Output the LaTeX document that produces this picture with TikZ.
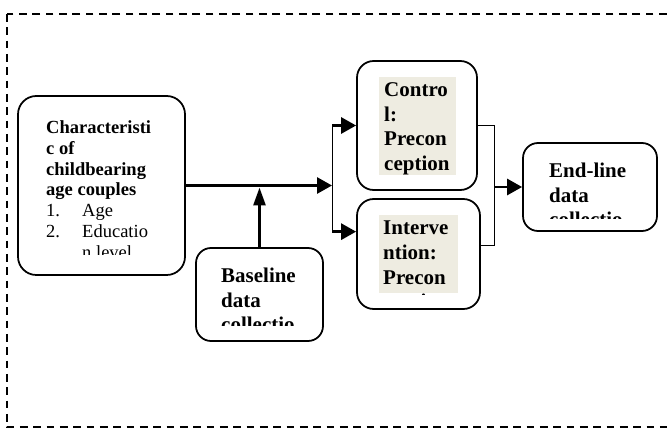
\documentclass[tikz,border=0pt]{standalone}
\usepackage{fontspec}
\setmainfont{Liberation Serif}
\usetikzlibrary{arrows.meta,calc}
\definecolor{tan}{HTML}{EEECE1}
\tikzset{
  box/.style={draw, line width=1.5pt, rounded corners=0.55cm, inner sep=0},
  fat/.style={line width=2.4pt, -{Triangle[length=0.45cm,width=0.48cm]}},
  thinline/.style={line width=0.7pt},
  big/.style={font=\bfseries\fontsize{17.9}{21}\selectfont, align=left, anchor=north west, inner sep=0},
  small/.style={font=\fontsize{15.8}{17.9}\selectfont, align=left, anchor=north west, inner sep=0},
}

\begin{document}
\begin{tikzpicture}
\useasboundingbox (0,0) rectangle (20.01,12.9);
\draw[line width=1.6pt, dash pattern=on 0.23cm off 0.17cm] (0.2,12.48) rectangle (20.1,0.08);

% boxes
\node[box, minimum width=5.01cm, minimum height=5.37cm] (chars) at (3.045,7.335) {};
\node[box, rounded corners=0.45cm, minimum width=3.81cm, minimum height=2.79cm] (base) at (7.785,4.065) {};
\node[box, rounded corners=0.5cm, minimum width=3.6cm, minimum height=3.87cm] (ctrl) at (12.51,9.135) {};
\node[box, rounded corners=0.5cm, minimum width=3.69cm, minimum height=3.3cm] (intv) at (12.555,5.28) {};
\node[box, rounded corners=0.45cm, minimum width=4.02cm, minimum height=2.64cm] (endl) at (17.7,7.29) {};

% shading behind the group labels
\fill[tan] (11.37,10.59) rectangle (13.68,7.65);
\fill[tan] (11.37,6.45) rectangle (13.74,4.11);

% texts, cut off as in the text boxes
\begin{scope}
\clip (1.2,10.0) rectangle (5.4,5.25);
\node[small] (chartxt) at (1.38,9.3) {\textbf{Characteristi}\\\textbf{c of}\\\textbf{childbearing}\\\textbf{age couples}\\
  \makebox[1.08cm][l]{1.}Age\\\makebox[1.08cm][l]{2.}Educatio\\\makebox[1.08cm][l]{}n level};
\end{scope}
\begin{scope}
\clip (6.0,5.3) rectangle (9.6,3.135);
\node[big] (basetxt) at (6.63,4.869) {Baseline\\data\\collectio};
\end{scope}
\node[big] (ctrltxt) at (11.52,10.42) {Contro\\l:\\Precon\\ception};
\begin{scope}
\clip (11.3,6.5) rectangle (13.8,4.08);
\node[big] (intvtxt) at (11.49,6.27) {Interve\\ntion:\\Precon\\ception};
\end{scope}
\begin{scope}
\clip (16.0,8.5) rectangle (19.6,6.345);
\node[big] (endltxt) at (16.47,8.01) {End-line\\data\\collectio};
\end{scope}

% connectors
\coordinate (split) at (9.96,7.335);
\coordinate (join) at (14.82,7.29);
\coordinate (inB) at ($(intv.north west)!0.3!(intv.south west)$);
\coordinate (outB) at ($(intv.north east)!0.42!(intv.south east)$);

\draw[fat] (chars.east) -- (split);
\draw[fat, -{Triangle[length=0.54cm,width=0.36cm]}, shorten >=0.06cm] (base.north) -- (base.north |- split);
\draw[thinline] (split |- ctrl.west) -- (split |- inB);
\draw[fat] (split |- ctrl.west) -- (ctrl.west);
\draw[fat] (split |- inB) -- (inB);
\draw[thinline] (ctrl.east) -- (ctrl.east -| join) -- (join |- outB) -- (outB);
\draw[fat] (join) -- (endl.west);
\end{tikzpicture}
\end{document}
